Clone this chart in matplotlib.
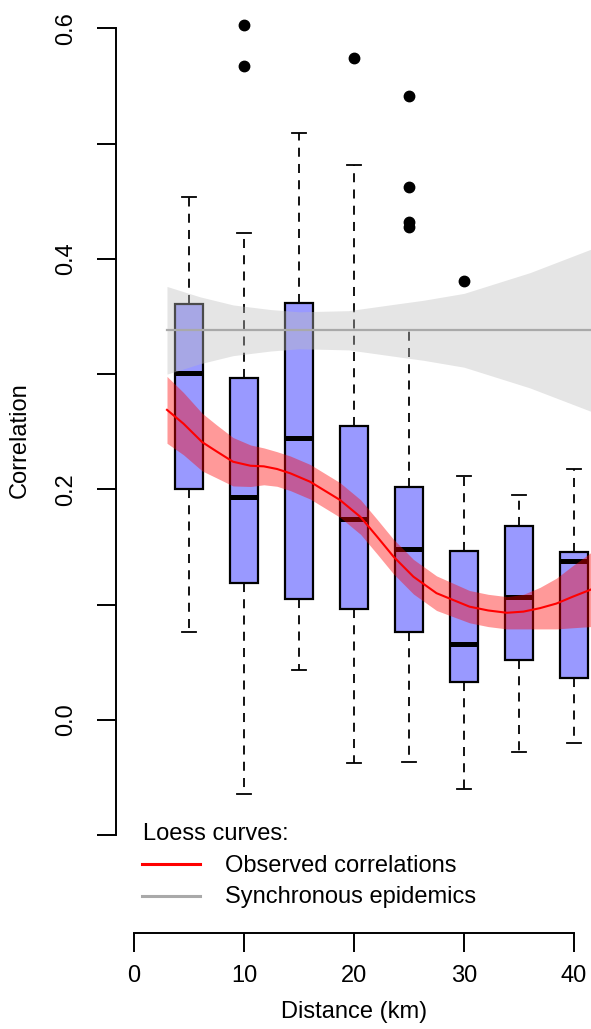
import numpy as np
import matplotlib
matplotlib.use("Agg")
import matplotlib.pyplot as plt
from matplotlib.lines import Line2D

plt.rcParams['font.family'] = ['Liberation Sans', 'DejaVu Sans']

# boxplot summaries per distance class (km)
distance = [5, 10, 15, 20, 25, 30, 35, 40]
q1 = [0.200, 0.119, 0.105, 0.096, 0.076, 0.033, 0.052, 0.036]
med = [0.301, 0.193, 0.245, 0.174, 0.148, 0.066, 0.107, 0.138]
q3 = [0.361, 0.297, 0.362, 0.255, 0.202, 0.147, 0.168, 0.146]
whis_lo = [0.076, -0.064, 0.043, -0.037, -0.036, -0.060, -0.028, -0.020]
whis_hi = [0.454, 0.422, 0.509, 0.481, 0.338, 0.212, 0.195, 0.218]
outliers = [[], [0.603, 0.567], [], [0.574], [0.541, 0.462, 0.432, 0.428], [0.381], [], []]

# loess fit, observed correlations (fit and half-width of band)
obs_km = [3.0, 4.5, 6.2, 7.5, 9.0, 10.6, 11.8, 13.0, 14.2, 16.0, 18.7, 20.6, 22.1,
          23.6, 25.4, 27.5, 30.5, 32.2, 33.9, 35.4, 36.9, 38.4, 39.9, 41.5, 42.5]
obs_fit = [0.269, 0.257, 0.241, 0.233, 0.224, 0.2205, 0.220, 0.2177, 0.214, 0.2067, 0.191,
           0.176, 0.159, 0.1416, 0.1243, 0.110, 0.0983, 0.095, 0.093, 0.094, 0.097,
           0.101, 0.107, 0.113, 0.118]
obs_se = [0.029, 0.027, 0.025, 0.023, 0.021, 0.018, 0.016, 0.015, 0.015, 0.015, 0.015,
          0.015, 0.015, 0.015, 0.015, 0.015, 0.014, 0.014, 0.014, 0.015, 0.018, 0.022,
          0.027, 0.032, 0.035]

# loess fit, synchronous epidemics
syn_km = [3, 6, 9, 12.4, 15, 19.5, 24, 26.3, 30, 33, 36, 39, 42]
syn_fit = [0.338, 0.338, 0.338, 0.338, 0.338, 0.338, 0.338, 0.338, 0.338, 0.338, 0.338, 0.338, 0.338]
syn_se = [0.038, 0.029, 0.022, 0.018, 0.016, 0.017, 0.023, 0.026, 0.032, 0.041, 0.050, 0.061, 0.072]

W, H = 591, 1029
fig = plt.figure(figsize=(W / 100, H / 100), dpi=100)
ax = fig.add_axes([116 / W, (H - 933) / H, (W - 116) / W, 933 / H])
ax.set_xlim(-1.636, 41.545)
ax.set_ylim((720 - 933) / 1153, 720 / 1153)

stats = []
for i in range(len(distance)):
    stats.append(dict(q1=q1[i], med=med[i], q3=q3[i], whislo=whis_lo[i],
                      whishi=whis_hi[i], fliers=outliers[i]))

ax.bxp(stats, positions=distance, widths=2.5, capwidths=1.3, patch_artist=True,
       manage_ticks=False,
       boxprops=dict(facecolor='#9999ff', edgecolor='black', linewidth=1.6),
       medianprops=dict(color='black', linewidth=3.6, solid_capstyle='butt'),
       whiskerprops=dict(color='black', linewidth=1.3, linestyle=(0, (5, 4))),
       capprops=dict(color='black', linewidth=1.3),
       flierprops=dict(marker='o', markerfacecolor='black', markeredgecolor='black',
                       markersize=7.5, linestyle='none'))

syn_fit_a = np.array(syn_fit)
syn_se_a = np.array(syn_se)
ax.fill_between(syn_km, syn_fit_a - syn_se_a, syn_fit_a + syn_se_a,
                color='#bebebe', alpha=0.4, linewidth=0, zorder=3)
ax.plot(syn_km, syn_fit, color='#a9a9a9', linewidth=1.6, zorder=4)

obs_fit_a = np.array(obs_fit)
obs_se_a = np.array(obs_se)
ax.fill_between(obs_km, obs_fit_a - obs_se_a, obs_fit_a + obs_se_a,
                color='red', alpha=0.4, linewidth=0, zorder=3)
ax.plot(obs_km, obs_fit, color='red', linewidth=1.5, zorder=4)

# axes in R style
for s in ['top', 'right']:
    ax.spines[s].set_visible(False)
ax.spines['left'].set_bounds(-0.1, 0.6)
ax.spines['bottom'].set_bounds(0, 40)
ax.spines['left'].set_linewidth(1.4)
ax.spines['bottom'].set_linewidth(1.4)

yt = [-0.1, 0.0, 0.1, 0.2, 0.3, 0.4, 0.5, 0.6]
ax.set_yticks(yt)
ax.set_yticklabels(['', '0.0', '', '0.2', '', '0.4', '', '0.6'], rotation=90, va='center')
ax.set_xticks([0, 10, 20, 30, 40])
ax.set_xticklabels(['0', '10', '20', '30', '40'])
ax.tick_params(axis='both', direction='out', length=13.7, width=1.4, labelsize=17)
ax.tick_params(axis='y', pad=14)
ax.tick_params(axis='x', pad=9)

fig.text(20 / W, 1 - 440 / H, 'Correlation', rotation=90, ha='center', va='center', fontsize=17)
fig.text(354 / W, 1 - 1012 / H, 'Distance (km)', ha='center', va='center', fontsize=17)

# legend
fig.text(143 / W, 1 - 834 / H, 'Loess curves:', ha='left', va='center', fontsize=17)
fig.text(225 / W, 1 - 866 / H, 'Observed correlations', ha='left', va='center', fontsize=17)
fig.text(225 / W, 1 - 897 / H, 'Synchronous epidemics', ha='left', va='center', fontsize=17)
fig.add_artist(Line2D([142 / W, 200 / W], [1 - 864 / H, 1 - 864 / H], color='red', linewidth=2.2))
fig.add_artist(Line2D([142 / W, 200 / W], [1 - 896 / H, 1 - 896 / H], color='#a9a9a9', linewidth=2.2))

fig.savefig('out.png', dpi=100)
